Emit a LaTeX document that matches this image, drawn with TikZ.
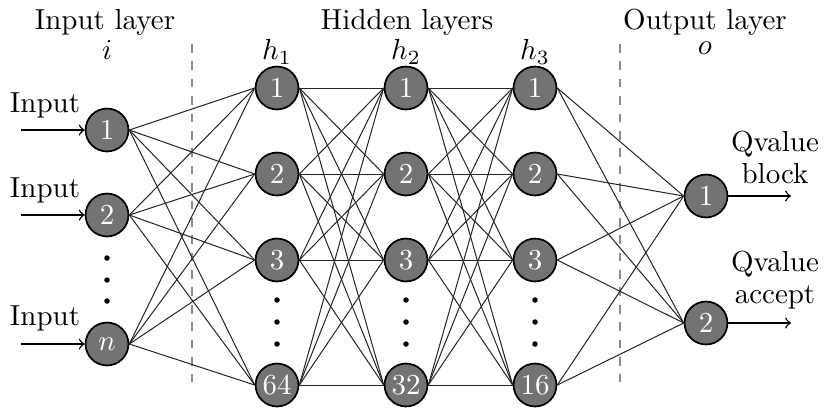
\documentclass[tikz,border=0pt]{standalone}
\begin{document}
\begin{tikzpicture}[x=0.345pt,y=-0.345pt,
  neuron/.style={circle,draw=black,line width=0.6pt,fill=black!55,text=white,minimum size=14.8pt,inner sep=0pt},
  conn/.style={draw=black!85,line width=0.35pt},
  sep/.style={draw=black!45,dashed,line width=0.5pt},
  dotnode/.style={circle,fill=black,inner sep=0pt,minimum size=1.9pt},
  lbl/.style={inner sep=0pt,align=center},
  io/.style={->,line width=0.5pt}]
\useasboundingbox (0,0) rectangle (831,409);
% separators
\coordinate (s1t) at (192,44); \coordinate (s1b) at (192,382);
\coordinate (s2t) at (620,44); \coordinate (s2b) at (620,382);
\draw[sep] (s1t) -- (s1b);
\draw[sep] (s2t) -- (s2b);
% input layer
\node[neuron] (i1) at (107,130) {1};
\node[neuron] (i2) at (107,215) {2};
\node[neuron] (in) at (107,344) {$n$};
\foreach \y/\k in {258/1,280/2,301/3} \node[dotnode] (idot\k) at (107,\y) {};
% hidden layers
\foreach \x/\l/\last in {277/1/64,406/2/32,535/3/16}{
  \node[neuron] (h\l-1) at (\x,88) {1};
  \node[neuron] (h\l-2) at (\x,174) {2};
  \node[neuron] (h\l-3) at (\x,260) {3};
  \node[neuron] (h\l-4) at (\x,385) {\last};
  \foreach \y/\k in {300/1,322/2,344/3} \node[dotnode] (hdot\l\k) at (\x,\y) {};
  \node[lbl] (hl\l) at (\x,52) {$h_{\l}$};
}
% output layer
\node[neuron] (o1) at (706,196) {1};
\node[neuron] (o2) at (706,323) {2};
% titles
\node[lbl] (t1) at (105,22) {Input layer};
\node[lbl] (t2) at (407,22) {Hidden layers};
\node[lbl] (t3) at (705,22) {Output layer};
\node[lbl] (li) at (107,50) {$i$};
\node[lbl] (lo) at (705,48) {$o$};
% connections
\foreach \s in {i1,i2,in}
  \foreach \t in {1,...,4}
    \draw[conn] (\s.east) -- (h1-\t.west);
\foreach \a/\b in {1/2,2/3}
  \foreach \s in {1,...,4}
    \foreach \t in {1,...,4}
      \draw[conn] (h\a-\s.east) -- (h\b-\t.west);
\foreach \s in {1,...,4}
  \foreach \t in {o1,o2}
    \draw[conn] (h3-\s.east) -- (\t.west);
% inputs
\foreach \n/\y/\ty in {i1/130/105,i2/215/190,in/344/318}{
  \coordinate (a\n) at (21,\y);
  \draw[io] (a\n) -- (\n.west);
  \node[lbl] (lab\n) at (45,\ty) {Input};
}
% outputs
\coordinate (e1) at (791,196);
\coordinate (e2) at (791,323);
\draw[io] (o1.east) -- (e1);
\draw[io] (o2.east) -- (e2);
\node[lbl] (q1) at (775,157) {Qvalue\\[-1pt]block};
\node[lbl] (q2) at (775,280) {Qvalue\\[-1pt]accept};
\end{tikzpicture}
\end{document}
